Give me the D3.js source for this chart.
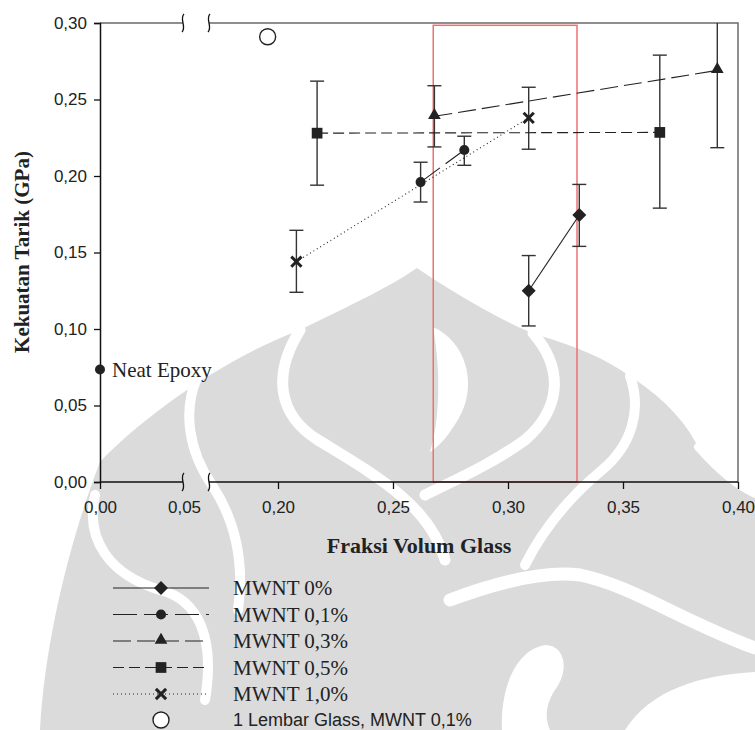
<!DOCTYPE html>
<html>
<head>
<meta charset="utf-8">
<script src="https://d3js.org/d3.v7.min.js"></script>
<style>
 body { margin: 0; background: #fff; }
</style>
</head>
<body>
<svg width="755" height="730"></svg>
<script>
 // data
 var seriesNames = ["MWNT 0%", "MWNT 0,1%", "MWNT 0,3%", "MWNT 0,5%", "MWNT 1,0%"];
 var mwnt0  = [ {x:0.309, y:0.125, lo:0.102, hi:0.148}, {x:0.331, y:0.1745, lo:0.154, hi:0.1945} ];
 var mwnt01 = [ {x:0.262, y:0.196, lo:0.183, hi:0.209}, {x:0.281, y:0.217, lo:0.207, hi:0.226} ];
 var mwnt03 = [ {x:0.268, y:0.239, lo:0.219, hi:0.259}, {x:0.391, y:0.269, lo:0.2185, hi:0.30} ];
 var mwnt05 = [ {x:0.217, y:0.228, lo:0.194, hi:0.262}, {x:0.366, y:0.2285, lo:0.179, hi:0.279} ];
 var mwnt10 = [ {x:0.208, y:0.144, lo:0.124, hi:0.1645}, {x:0.309, y:0.238, lo:0.2175, hi:0.258} ];
 var oneSheet = [ {x:0.1955, y:0.291} ];
 var neatEpoxy = [ {x:0, y:0.0735} ];
 var highlightX = [0.2675, 0.33];
 var highlightY = [0.0, 0.2985];
 var xTicks = [0, 0.05, 0.20, 0.25, 0.30, 0.35, 0.40];
 var yTicks = [0, 0.05, 0.10, 0.15, 0.20, 0.25, 0.30];

 var svg = d3.select("svg");
 var fmt = function (v) { return d3.format(".2f")(v).replace(".", ","); };
 var serif = "Liberation Serif, Times New Roman, serif";
 var sans = "Liberation Sans, Arial, sans-serif";

 // background watermark (rough shape of the page logo)
 var wm = svg.append("g");
 wm.append("path").attr("fill", "#dbdbdb")
   .attr("d", "M40,730 C45,640 70,540 100,462 C140,420 220,360 300,330 C340,310 385,290 417,268 " +
              "C450,290 490,315 532,333 C570,345 600,355 628,375 C660,395 685,420 698,447 " +
              "C715,468 735,482 755,490 L755,730 Z");
 var stripes = [
   ["M197,378 C183,410 188,450 212,485 C235,520 245,560 238,610", 10],
   ["M300,330 C272,375 278,415 318,440 C375,475 430,505 445,560", 11],
   ["M533,333 C565,370 560,410 525,440 C490,465 455,480 425,495", 11],
   ["M630,376 C642,410 632,445 602,470 C572,495 545,525 525,565", 10],
   ["M698,447 C718,470 738,486 755,494", 8],
   ["M450,600 C490,585 540,570 580,575 C630,585 680,620 755,648", 13],
   ["M95,495 C85,540 110,575 160,590 C200,600 215,640 205,700", 10]
 ];
 stripes.forEach(function (s) {
   wm.append("path").attr("d", s[0]).attr("fill", "none")
     .attr("stroke", "#fff").attr("stroke-width", s[1]).attr("stroke-linecap", "round");
 });
 wm.append("path").attr("fill", "#fff")
   .attr("d", "M433,327 C466,342 476,382 462,412 C452,432 440,446 430,452 C440,420 441,370 433,327 Z");
 wm.append("path").attr("fill", "#fff")
   .attr("d", "M625,730 C650,690 700,675 755,672 L755,730 Z");
 wm.append("path").attr("fill", "#fff")
   .attr("d", "M502,730 C500,690 515,650 545,645 C565,645 570,670 555,690 C545,705 545,720 550,730 Z");

 // broken x axis: 0..0.05, gap, 0.17..0.40
 var x = d3.scaleLinear().domain([0, 0.05, 0.17, 0.40]).range([100, 184, 209, 738]);
 var y = d3.scaleLinear().domain([0, 0.30]).range([482, 23]);

 var series = [
   { name: seriesNames[0], data: mwnt0,  dash: null,   sym: d3.symbolDiamond2, size: 125 },
   { name: seriesNames[1], data: mwnt01, dash: "24,7", sym: d3.symbolCircle,   size: 80 },
   { name: seriesNames[2], data: mwnt03, dash: "18,6", sym: d3.symbolTriangle, size: 70 },
   { name: seriesNames[3], data: mwnt05, dash: "11,5", sym: d3.symbolSquare,   size: 115 },
   { name: seriesNames[4], data: mwnt10, dash: "1,3",  sym: d3.symbolX,        size: 70 }
 ];

 // frame (top and right borders)
 svg.append("path").attr("d", "M100 " + y(0.30) + " H183 M209 " + y(0.30) + " H" + x(0.40) + " V" + y(0))
    .attr("fill", "none").attr("stroke", "#6a6a6a").attr("stroke-width", 1.5);

 // highlight box
 svg.append("rect")
    .attr("x", x(highlightX[0])).attr("y", y(highlightY[1]))
    .attr("width", x(highlightX[1]) - x(highlightX[0]))
    .attr("height", y(highlightY[0]) - y(highlightY[1]))
    .attr("fill", "none").attr("stroke", "#f07070").attr("stroke-width", 1.5);

 // axes
 var gy = svg.append("g").attr("transform", "translate(100,0)")
    .call(d3.axisLeft(y).tickValues(yTicks).tickFormat(fmt).tickSize(6).tickPadding(7));
 var gx = svg.append("g").attr("transform", "translate(0," + y(0) + ")")
    .call(d3.axisBottom(x).tickValues(xTicks).tickFormat(fmt).tickSize(7).tickPadding(12));
 [gx, gy].forEach(function (g) {
   g.select(".domain").attr("stroke", "#111").attr("stroke-width", 1.5);
   g.selectAll(".tick line").attr("stroke", "#111").attr("stroke-width", 1.3);
   g.selectAll("text").attr("font-family", sans).attr("font-size", 17).attr("fill", "#222");
 });
 gx.select(".domain").attr("d", "M100,0H183M209,0H738");
 gx.selectAll(".tick").filter(function (d) { return d === 0.05; }).select("line").remove();

 // axis break marks
 [y(0.30), y(0)].forEach(function (yy) {
   [183, 209].forEach(function (xx) {
     svg.append("path")
        .attr("d", "M" + (xx + 1) + "," + (yy - 9) + " C" + (xx - 4) + "," + (yy - 4) + " " + (xx + 4) + "," + (yy + 4) + " " + (xx - 1) + "," + (yy + 9))
        .attr("fill", "none").attr("stroke", "#111").attr("stroke-width", 1.3);
   });
 });

 // axis titles
 svg.append("text").attr("transform", "translate(29,252) rotate(-90)")
    .attr("text-anchor", "middle").attr("font-family", serif)
    .attr("font-weight", "bold").attr("font-size", 21).attr("fill", "#222")
    .text("Kekuatan Tarik (GPa)");
 svg.append("text").attr("x", 419).attr("y", 553)
    .attr("text-anchor", "middle").attr("font-family", serif)
    .attr("font-weight", "bold").attr("font-size", 22).attr("fill", "#222")
    .text("Fraksi Volum Glass");

 var line = d3.line().x(function (d) { return x(d.x); }).y(function (d) { return y(d.y); });

 // error bars
 series.forEach(function (s) {
   var g = svg.append("g").attr("stroke", "#333").attr("stroke-width", 1.4);
   s.data.forEach(function (d) {
     g.append("line").attr("x1", x(d.x)).attr("x2", x(d.x)).attr("y1", y(d.lo)).attr("y2", y(d.hi));
     g.append("line").attr("x1", x(d.x) - 7).attr("x2", x(d.x) + 7).attr("y1", y(d.lo)).attr("y2", y(d.lo));
     if (d.hi < 0.30)
       g.append("line").attr("x1", x(d.x) - 7).attr("x2", x(d.x) + 7).attr("y1", y(d.hi)).attr("y2", y(d.hi));
   });
 });

 // connecting lines
 series.forEach(function (s) {
   svg.append("path").attr("d", line(s.data)).attr("fill", "none")
      .attr("stroke", "#222").attr("stroke-width", 1.1)
      .attr("stroke-dasharray", s.dash);
 });

 // markers
 function drawSym(sel, s) {
   var p = sel.append("path").attr("d", d3.symbol().type(s.sym).size(s.size)());
   if (s.sym === d3.symbolX) p.attr("fill", "none").attr("stroke", "#222").attr("stroke-width", 3);
   else p.attr("fill", "#222");
   if (s.sym === d3.symbolTriangle) p.attr("transform", "translate(0,-1)");
   return p;
 }
 series.forEach(function (s) {
   s.data.forEach(function (d) {
     drawSym(svg.append("g").attr("transform", "translate(" + x(d.x) + "," + y(d.y) + ")"), s);
   });
 });

 svg.selectAll(".one").data(oneSheet).enter().append("circle")
    .attr("cx", function (d) { return x(d.x); }).attr("cy", function (d) { return y(d.y); })
    .attr("r", 8).attr("fill", "#fff").attr("stroke", "#222").attr("stroke-width", 1.4);

 svg.selectAll(".neat").data(neatEpoxy).enter().append("circle")
    .attr("cx", function (d) { return x(d.x); }).attr("cy", function (d) { return y(d.y); })
    .attr("r", 5).attr("fill", "#222");
 svg.append("text").attr("x", x(neatEpoxy[0].x) + 12).attr("y", y(neatEpoxy[0].y) + 7)
    .attr("font-family", serif).attr("font-size", 21).attr("fill", "#222")
    .text("Neat Epoxy");

 // legend
 var legend = svg.append("g");
 series.forEach(function (s, i) {
   var ly = 588 + i * 26.5;
   legend.append("line").attr("x1", 113).attr("x2", 209).attr("y1", ly).attr("y2", ly)
      .attr("stroke", "#222").attr("stroke-width", 1.1).attr("stroke-dasharray", s.dash);
   drawSym(legend.append("g").attr("transform", "translate(161," + ly + ")"), s);
   legend.append("text").attr("x", 233).attr("y", ly + 7)
      .attr("font-family", serif).attr("font-size", 21).attr("fill", "#222")
      .text(s.name);
 });
 legend.append("circle").attr("cx", 161).attr("cy", 720).attr("r", 8)
    .attr("fill", "#fff").attr("stroke", "#222").attr("stroke-width", 1.4);
 legend.append("text").attr("x", 233).attr("y", 726)
    .attr("font-family", sans).attr("font-size", 18).attr("fill", "#222")
    .text("1 Lembar Glass, MWNT 0,1%");
</script>
</body>
</html>
